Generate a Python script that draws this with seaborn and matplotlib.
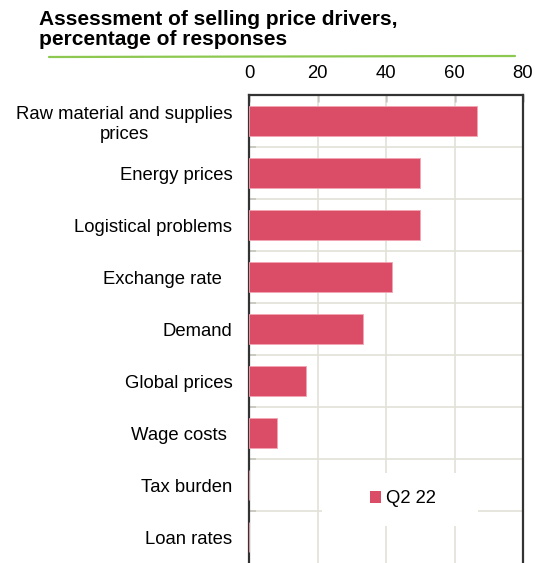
import matplotlib
matplotlib.use("Agg")
import matplotlib.pyplot as plt
import seaborn as sns
import pandas as pd
from matplotlib.lines import Line2D
from matplotlib.patches import Rectangle, Patch

categories = ["Raw material and supplies\nprices", "Energy prices", "Logistical problems",
              "Exchange rate  ", "Demand", "Global prices", "Wage costs ", "Tax burden", "Loan rates"]
values_q2_22 = [66.7, 50.0, 50.0, 41.7, 33.3, 16.7, 8.3, 0.0, 0.0]
series_name = "Q2 22"
x_ticks = [0, 20, 40, 60, 80]

sns.set_theme(style="white")
plt.rcParams['font.family'] = ['Liberation Sans', 'DejaVu Sans']
plt.rcParams['text.color'] = 'black'
plt.rcParams['xtick.color'] = 'black'
plt.rcParams['ytick.color'] = 'black'

df = pd.DataFrame({"driver": categories, "share": values_q2_22})

W, H = 535, 563
fig = plt.figure(figsize=(W / 100, H / 100), dpi=100)
ax = fig.add_axes([249 / W, 0.0, (523 - 249) / W, (563 - 95) / H])

bar_color = "#db4c66"
sns.barplot(data=df, y="driver", x="share", orient="h", color=bar_color, width=0.58,
            saturation=1, edgecolor="#f2a6b4", linewidth=0.6, ax=ax, zorder=3)

ax.set_xlim(0, 80)
ax.set_ylim(len(categories) - 0.5, -0.5)
ax.set_xlabel("")
ax.set_ylabel("")

# top x axis
ax.xaxis.tick_top()
ax.set_xticks(x_ticks)
ax.set_xticklabels([str(t) for t in x_ticks])
ax.tick_params(axis="x", which="major", direction="in", length=5, width=1, color="#333333",
               labelsize=13.3, pad=9, top=True, bottom=False, labelcolor="black")

# y axis: labels at centers, ticks at boundaries
ax.set_yticks(range(len(categories)))
ax.set_yticklabels(categories, multialignment="center")
ax.set_yticks([i + 0.5 for i in range(len(categories) - 1)], minor=True)
ax.tick_params(axis="y", which="major", length=0, labelsize=13.3, pad=12, labelcolor="black")
ax.tick_params(axis="y", which="minor", direction="in", length=5, width=1.2, color="#333333", left=True)

# grid
grid_color = "#e2e2d8"
for xv in [20, 40, 60]:
    ax.axvline(xv, color=grid_color, lw=1.2, zorder=1)
for yv in [i + 0.5 for i in range(len(categories) - 1)]:
    ax.axhline(yv, color=grid_color, lw=1.2, zorder=1)

for s in ["left", "right", "top"]:
    ax.spines[s].set_visible(True)
    ax.spines[s].set_color("#333333")
    ax.spines[s].set_linewidth(1.6)
ax.spines["bottom"].set_visible(False)

# legend background box
ax.add_patch(Rectangle((0.266, 0.079), 0.57, 0.113, transform=ax.transAxes,
                       facecolor="white", edgecolor="none", zorder=4))
handle = Patch(facecolor=bar_color, edgecolor="none")
leg = ax.legend([handle], [series_name], loc="center", bbox_to_anchor=(0.562, 0.137),
                frameon=False, fontsize=13.3, handlelength=0.6, handleheight=0.6,
                handletextpad=0.3)
leg.set_zorder(5)
for t in leg.get_texts():
    t.set_color("black")

fig.text(39 / W, 1 - 10 / H, "Assessment of selling price drivers,\npercentage of responses",
         ha="left", va="top", fontsize=15, fontweight="bold", linespacing=1.05, color="black")
fig.add_artist(Line2D([49 / W, 515 / W], [1 - 57 / H, 1 - 56 / H], color="#8dc850", lw=1.6))

fig.savefig("out.png", dpi=100)
